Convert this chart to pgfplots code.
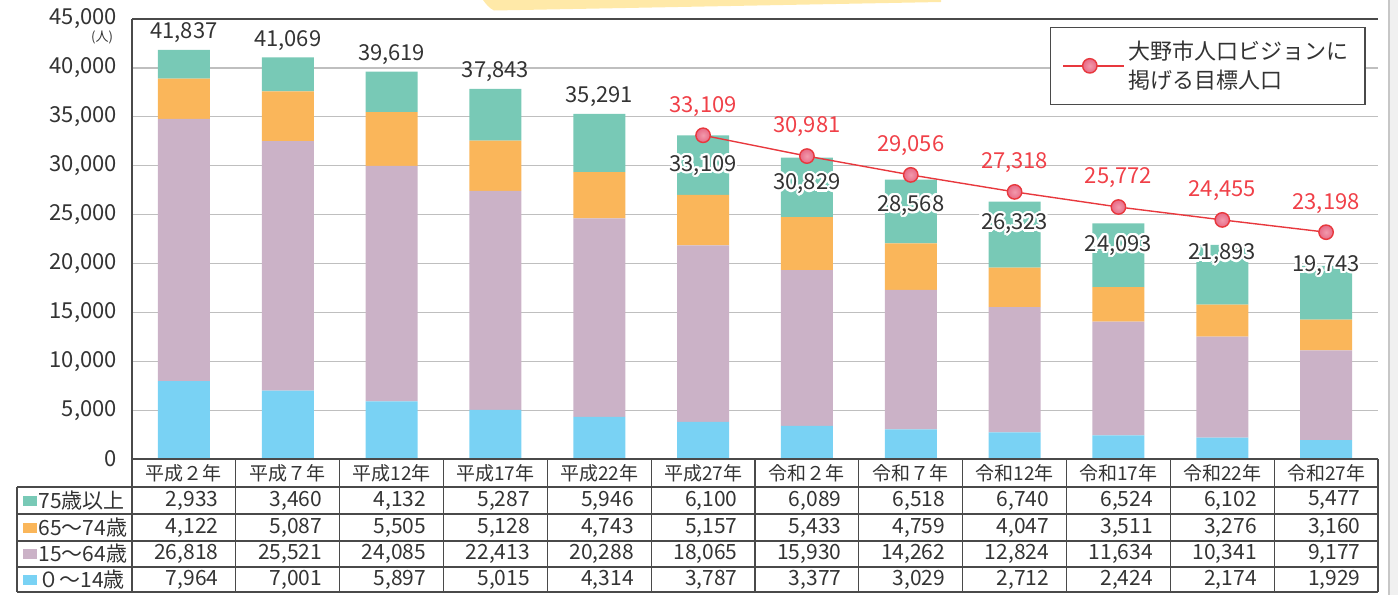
\documentclass[border=0pt]{standalone}
\usepackage{pgfplots}
\pgfplotsset{compat=1.18}
\usepackage{pgfplotstable}
\usepackage{fontspec}
\setmainfont{Noto Sans CJK JP}
\usepackage{contour}
\contourlength{1.1pt}
\definecolor{c75}{HTML}{78C9B6}
\definecolor{c65}{HTML}{FAB65A}
\definecolor{c15}{HTML}{CBB2C7}
\definecolor{c0}{HTML}{79D2F4}
\definecolor{txt}{HTML}{333333}
\definecolor{gridc}{HTML}{BFBFBF}
\definecolor{axisc}{HTML}{4A4A4A}
\definecolor{redl}{HTML}{E8383D}
\definecolor{redt}{HTML}{F04048}
\definecolor{dotin}{HTML}{F29AAC}
\definecolor{dotout}{HTML}{E76A86}
\definecolor{yel}{HTML}{FFE9A8}
\pgfkeys{/pgf/number format/.cd,1000 sep={,},assume math mode=true}
\pgfdeclareplotmark{pinkdot}{%
  \shade[inner color=dotin, outer color=dotout] (0pt,0pt) circle (\pgfplotmarksize);}

\pgfplotstableread{
x c0 c15 c65 c75 tot
0 7964 26818 4122 2933 41837
1 7001 25521 5087 3460 41069
2 5897 24085 5505 4132 39619
3 5015 22413 5128 5287 37843
4 4314 20288 4743 5946 35291
5 3787 18065 5157 6100 33109
6 3377 15930 5433 6089 30829
7 3029 14262 4759 6518 28568
8 2712 12824 4047 6740 26323
9 2424 11634 3511 6524 24093
10 2174 10341 3276 6102 21893
11 1929 9177 3160 5477 19743
}\data

\pgfplotstableread{
x ly tot
5 29894 33109
6 28022 30829
7 25803 28568
8 23931 26323
9 21712 24093
10 20863 21893
11 19666 19743
}\inlbl

\pgfplotstableread{
x t
5 33109
6 30981
7 29056
8 27318
9 25772
10 24455
11 23198
}\target

\begin{document}
\begin{tikzpicture}
\begin{scope}[x=0.5pt,y=-0.5pt]
\path[use as bounding box] (0,0) rectangle (1398,595);
\fill[yel] (483,0) .. controls (486,4) and (489,8) .. (494,10.5) -- (941,2) -- (941,0) -- cycle;
\fill[black!6] (1389,0) rectangle (1398,595);
\draw[black!22,line width=0.6pt] (1389,0) -- (1389,595);
\end{scope}

\begin{axis}[
  at={(66pt,-229.5pt)}, anchor=south west,
  width=623pt, height=220pt, scale only axis,
  xmin=-0.5, xmax=11.5, ymin=0, ymax=45000,
  ybar stacked, bar width=26pt,
  xtick=\empty, ytick={0,5000,...,45000},
  scaled y ticks=false,
  ymajorgrids, grid style={draw=gridc, line width=0.6pt},
  axis line style={draw=none},
  major tick length=0pt,
  /pgf/number format/1000 sep={,},
  /pgf/number format/assume math mode=true,
  yticklabel style={font=\fontsize{11}{13}\selectfont, text=txt, xshift=-4pt},
  clip=false,
]
\addplot[fill=c0, draw=none] table[x=x,y=c0]{\data};
\addplot[fill=c15, draw=none] table[x=x,y=c15]{\data};
\addplot[fill=c65, draw=none] table[x=x,y=c65]{\data};
\addplot[fill=c75, draw=none] table[x=x,y=c75]{\data};
\end{axis}

\begin{axis}[
  at={(66pt,-229.5pt)}, anchor=south west,
  width=623pt, height=220pt, scale only axis,
  xmin=-0.5, xmax=11.5, ymin=0, ymax=45000,
  hide axis, clip=false,
  /pgf/number format/1000 sep={,},
  /pgf/number format/assume math mode=true,
  legend style={at={(0.990,0.982)}, anchor=north east, draw=axisc, line width=0.6pt,
    font=\fontsize{11}{14.5}\selectfont, text=txt, cells={align=left},
    inner xsep=6pt, inner ysep=4.5pt},
  legend image code/.code={
    \path (-0.12cm,0cm) -- (0.95cm,0cm);
    \draw[redl, line width=0.7pt] (0cm,0cm) -- (0.69cm,0cm);
    \shade[inner color=dotin, outer color=dotout] (0.345cm,0cm) circle (3.6pt);
  },
]
\addplot[draw=none, mark=none, forget plot, restrict x to domain=0:4,
  nodes near coords, point meta=explicit,
  every node near coord/.style={anchor=south, text=txt, font=\fontsize{11}{13}\selectfont}]
  table[x=x,y=tot,meta=tot]{\data};
\addplot[redl, line width=0.7pt, mark=pinkdot, mark size=3.6pt,
  nodes near coords, point meta=explicit,
  every node near coord/.style={anchor=center, yshift=14.5pt, text=redt, font=\fontsize{11}{13}\selectfont}]
  table[x=x,y=t,meta=t]{\target};
\addlegendentry{大野市人口ビジョンに\\掲げる目標人口}
\addplot[draw=none, mark=none, forget plot,
  nodes near coords={\contour{white}{\pgfmathprintnumber{\pgfplotspointmeta}}}, point meta=explicit,
  every node near coord/.style={anchor=center, text=txt, font=\fontsize{11}{13}\selectfont}]
  table[x=x,y=ly,meta=tot]{\inlbl};
\end{axis}

\begin{scope}[x=0.5pt,y=-0.5pt]
\draw[axisc, line width=0.6pt] (132,19) -- (1378,19);
\draw[axisc, line width=0.6pt] (132,19) -- (132,592);
\draw[axisc, line width=0.6pt] (132,459) -- (1378,459);
\foreach \yy in {487,514,541,567,592}{
  \draw[axisc, line width=0.6pt] (17,\yy) -- (1378,\yy);
}
\draw[axisc, line width=0.6pt] (17,487) -- (17,592);
\foreach \k in {1,...,12}{
  \draw[axisc, line width=0.6pt] ({132+\k*103.833},459) -- ({132+\k*103.833},592);
}
\foreach \i/\lab in {0/平成２年,1/平成７年,2/平成12年,3/平成17年,4/平成22年,5/平成27年,6/令和２年,7/令和７年,8/令和12年,9/令和17年,10/令和22年,11/令和27年}{
  \node[text=txt, font=\fontsize{9.5}{11}\selectfont, inner sep=0pt] at ({132+(\i+0.5)*103.833},473) {\lab};
}
\foreach \col/\yy/\cc/\lab in {c75/500.5/c75/75歳以上, c65/527.5/c65/65～74歳, c15/554/c15/15～64歳, c0/579.5/c0/０～14歳}{
  \fill[\cc] (23,{\yy-5}) rectangle (37,{\yy+5});
  \node[anchor=west, text=txt, font=\fontsize{10.5}{12}\selectfont, inner sep=0pt] at (38,\yy) {\lab};
  \foreach \i in {0,...,11}{
    \pgfplotstablegetelem{\i}{\col}\of\data
    \node[anchor=east, text=txt, font=\fontsize{10.5}{12}\selectfont, inner sep=0pt] at ({132+(\i+1)*103.833-17},\yy) {\pgfmathprintnumber{\pgfplotsretval}};
  }
}
\node[text=txt, font=\fontsize{6.5}{7}\selectfont, inner sep=0pt] at (102,37) {(人)};
\end{scope}
\end{tikzpicture}
\end{document}
